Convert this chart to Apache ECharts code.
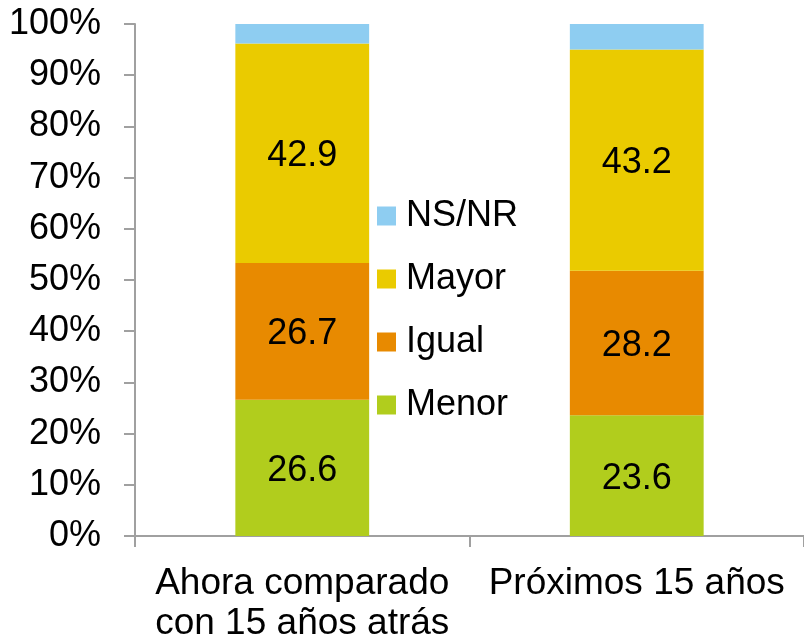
<!DOCTYPE html>
<html>
<head>
<meta charset="utf-8">
<script src="https://cdn.jsdelivr.net/npm/echarts@6/dist/echarts.min.js"></script>
<style>
  html, body { margin: 0; padding: 0; background: #fff; }
  #chart { width: 804px; height: 642px; }
</style>
</head>
<body>
<div id="chart"></div>
<script>
// categorias y valores (%)
const categories = ['Ahora comparado\ncon 15 años atrás', 'Próximos 15 años']
const menor = [26.6, 23.6]
const igual = [26.7, 28.2]
const mayor = [42.9, 43.2]
const nsnr = [3.8, 5.0]

const font = 'Liberation Sans, Arial, sans-serif'
const barLabel = {
  show: true,
  position: 'inside',
  offset: [0, 3],
  color: '#000',
  fontSize: 36,
  fontFamily: font,
  formatter: p => p.value.toFixed(1)
}

let myChart = echarts.init(document.getElementById('chart'))
myChart.setOption({
  animation: false,
  grid: {
    left: 135,
    right: 0,
    top: 24,
    bottom: 106,
    outerBoundsMode: 'none',
    containLabel: false
  },
  legend: {
    orient: 'vertical',
    left: 377,
    top: 198,
    padding: 0,
    itemWidth: 19,
    itemHeight: 19,
    itemGap: 27,
    icon: 'rect',
    data: ['NS/NR', 'Mayor', 'Igual', 'Menor'],
    textStyle: {
      fontSize: 36,
      fontFamily: font,
      color: '#000',
      lineHeight: 36,
      padding: [0, 0, 0, 5]
    }
  },
  xAxis: {
    type: 'category',
    data: categories,
    axisLine: { lineStyle: { color: '#a0a0a0', width: 2 } },
    axisTick: { show: true, length: 11, lineStyle: { color: '#a0a0a0', width: 2 } },
    axisLabel: {
      interval: 0,
      margin: 28,
      color: '#000',
      fontSize: 37,
      fontFamily: font,
      lineHeight: 40
    }
  },
  yAxis: {
    type: 'value',
    min: 0,
    max: 100,
    interval: 10,
    splitLine: { show: false },
    axisLine: { show: true, lineStyle: { color: '#a0a0a0', width: 2 } },
    axisTick: { show: true, length: 11, lineStyle: { color: '#a0a0a0', width: 2 } },
    axisLabel: {
      margin: 34,
      color: '#000',
      fontSize: 36,
      fontFamily: font,
      formatter: '{value}%'
    }
  },
  series: [
    {
      name: 'Menor',
      type: 'bar',
      stack: 'total',
      barWidth: '40%',
      color: '#b1cd1d',
      label: barLabel,
      data: menor
    },
    {
      name: 'Igual',
      type: 'bar',
      stack: 'total',
      color: '#e88a00',
      label: barLabel,
      data: igual
    },
    {
      name: 'Mayor',
      type: 'bar',
      stack: 'total',
      color: '#eacb00',
      label: barLabel,
      data: mayor
    },
    {
      name: 'NS/NR',
      type: 'bar',
      stack: 'total',
      color: '#8ecdf1',
      data: nsnr
    }
  ]
})
</script>
</body>
</html>
